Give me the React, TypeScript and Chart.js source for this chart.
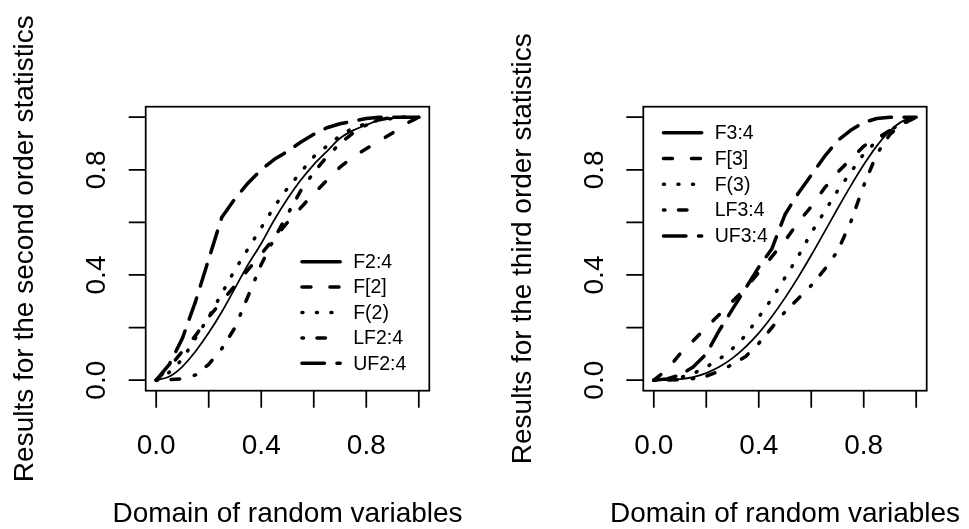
import React, { useEffect, useRef } from "react";
import { Chart, registerables } from "chart.js";

Chart.register(...registerables);

// ---------- data ----------
const X_GRID = [0, 0.05, 0.1, 0.15, 0.2, 0.25, 0.3, 0.35, 0.4, 0.45, 0.5, 0.55, 0.6, 0.65, 0.7, 0.75, 0.8, 0.85, 0.9, 0.95, 1];

// second order statistics (left panel)
const F24 = [0, 0.014, 0.052, 0.11, 0.18, 0.26, 0.35, 0.44, 0.52, 0.61, 0.69, 0.76, 0.82, 0.87, 0.92, 0.95, 0.97, 0.99, 0.996, 1, 1];
const F_BR2 = [0, 0.05, 0.11, 0.17, 0.24, 0.3, 0.36, 0.42, 0.48, 0.54, 0.6, 0.655, 0.71, 0.76, 0.81, 0.85, 0.88, 0.91, 0.94, 0.975, 1];
const F_PAR2 = [0, 0.03, 0.08, 0.16, 0.24, 0.33, 0.42, 0.5, 0.58, 0.66, 0.73, 0.79, 0.85, 0.89, 0.93, 0.96, 0.975, 0.99, 0.995, 1, 1];
const LF24 = [0, 0.002, 0.005, 0.02, 0.06, 0.12, 0.2, 0.32, 0.44, 0.54, 0.63, 0.72, 0.79, 0.85, 0.9, 0.94, 0.97, 0.99, 1, 1, 1];
const UF24 = [0, 0.06, 0.16, 0.3, 0.46, 0.62, 0.69, 0.75, 0.8, 0.84, 0.87, 0.905, 0.935, 0.96, 0.975, 0.985, 0.995, 1, 1, 1, 1];

// third order statistics (right panel)
const F34 = [0, 0.0005, 0.004, 0.012, 0.027, 0.051, 0.084, 0.127, 0.179, 0.242, 0.313, 0.391, 0.475, 0.563, 0.652, 0.738, 0.819, 0.891, 0.948, 0.986, 1];
const F_BR3 = [0, 0.04, 0.1, 0.15, 0.2, 0.25, 0.3, 0.35, 0.41, 0.47, 0.53, 0.6, 0.66, 0.73, 0.79, 0.84, 0.89, 0.92, 0.95, 0.975, 1];
const F_PAR3 = [0, 0.002, 0.01, 0.025, 0.05, 0.08, 0.12, 0.17, 0.24, 0.31, 0.39, 0.47, 0.56, 0.64, 0.72, 0.79, 0.86, 0.91, 0.95, 0.98, 1];
const LF34 = [0, 0, 0.002, 0.006, 0.015, 0.035, 0.06, 0.09, 0.14, 0.2, 0.26, 0.31, 0.36, 0.42, 0.49, 0.6, 0.74, 0.86, 0.935, 0.978, 1];
const UF34 = [0, 0.005, 0.02, 0.05, 0.1, 0.19, 0.27, 0.35, 0.43, 0.5, 0.63, 0.71, 0.78, 0.85, 0.91, 0.95, 0.98, 0.995, 1, 1, 1];

const X_TICKS = [0, 0.2, 0.4, 0.6, 0.8, 1];
const Y_TICKS = [0, 0.2, 0.4, 0.6, 0.8, 1];
const TICK_LABEL_VALUES = [0, 0.4, 0.8];
const TICK_LABELS = ["0.0", "0.4", "0.8"];

const LEFT_NAMES = ["F2:4", "F[2]", "F(2)", "LF2:4", "UF2:4"];
const RIGHT_NAMES = ["F3:4", "F[3]", "F(3)", "LF3:4", "UF3:4"];
const X_TITLE = "Domain of random variables";
const LEFT_Y_TITLE = "Results for the second order statistics";
const RIGHT_Y_TITLE = "Results for the third order statistics";

// ---------- styles ----------
const FONT = "'Liberation Sans', Arial, Helvetica, sans-serif";
const STYLES = [
  { dash: [] as number[], width: 1.75 },
  { dash: [9, 19], width: 3.5 },
  { dash: [1, 13.5], width: 3.5 },
  { dash: [1.5, 13.5, 8.5, 15], width: 3.5 },
  { dash: [22.5, 12.5], width: 3.5 },
];

type PanelCfg = {
  names: string[];
  series: number[][];
  yTitle: string;
  legendX: number;
  legendY: number;
  legendRow: number;
};

const axisPlugin = (cfg: PanelCfg) => ({
  id: "rAxes",
  afterDraw(chart: any) {
    const ctx: CanvasRenderingContext2D = chart.ctx;
    const { left, right, top, bottom } = chart.chartArea;
    const xs = chart.scales.x;
    const ys = chart.scales.y;
    ctx.save();
    ctx.strokeStyle = "#000";
    ctx.fillStyle = "#000";
    ctx.lineWidth = 1.75;
    ctx.lineCap = "butt";
    ctx.setLineDash([]);
    ctx.strokeRect(left, top, right - left, bottom - top);
    const tl = 17;
    ctx.beginPath();
    for (const v of X_TICKS) {
      const px = xs.getPixelForValue(v);
      ctx.moveTo(px, bottom);
      ctx.lineTo(px, bottom + tl);
    }
    for (const v of Y_TICKS) {
      const py = ys.getPixelForValue(v);
      ctx.moveTo(left, py);
      ctx.lineTo(left - tl, py);
    }
    ctx.stroke();
    ctx.font = `28px ${FONT}`;
    ctx.textAlign = "center";
    ctx.textBaseline = "alphabetic";
    TICK_LABEL_VALUES.forEach((v, i) => {
      ctx.fillText(TICK_LABELS[i], xs.getPixelForValue(v), bottom + 62.8);
    });
    ctx.fillText(X_TITLE, (left + right) / 2, bottom + 131);
    TICK_LABEL_VALUES.forEach((v, i) => {
      ctx.save();
      ctx.translate(left - 40.7, ys.getPixelForValue(v));
      ctx.rotate(-Math.PI / 2);
      ctx.fillText(TICK_LABELS[i], 0, 0);
      ctx.restore();
    });
    ctx.save();
    ctx.translate(left - 112.4, (top + bottom) / 2);
    ctx.rotate(-Math.PI / 2);
    ctx.fillText(cfg.yTitle, 0, 0);
    ctx.restore();
    ctx.font = `19.5px ${FONT}`;
    ctx.textAlign = "left";
    ctx.textBaseline = "middle";
    cfg.names.forEach((name, i) => {
      const y = top + cfg.legendY + i * cfg.legendRow;
      const x0 = left + cfg.legendX;
      ctx.save();
      ctx.lineWidth = 3.5;
      ctx.lineCap = "round";
      ctx.setLineDash(STYLES[i].dash);
      ctx.beginPath();
      ctx.moveTo(x0 + 1.75, y);
      ctx.lineTo(x0 + 40, y);
      ctx.stroke();
      ctx.restore();
      ctx.fillText(name, x0 + 53, y + 1);
    });
    ctx.restore();
  },
});

function makeChart(canvas: HTMLCanvasElement, cfg: PanelCfg, padding: any) {
  return new Chart(canvas, {
    type: "line",
    data: {
      datasets: cfg.series.map((vals, i) => ({
        label: cfg.names[i],
        data: X_GRID.map((x, j) => ({ x, y: vals[j] })),
        borderColor: "#000",
        borderWidth: STYLES[i].width,
        borderDash: STYLES[i].dash,
        borderCapStyle: "round",
        borderJoinStyle: "round",
        pointRadius: 0,
        fill: false,
        tension: 0,
        cubicInterpolationMode: i === 0 ? "monotone" : "default",
      })),
    },
    options: {
      responsive: false,
      animation: false,
      devicePixelRatio: 1,
      layout: { padding },
      plugins: { legend: { display: false }, tooltip: { enabled: false } },
      scales: {
        x: { type: "linear", min: -0.04, max: 1.04, display: false },
        y: { type: "linear", min: -0.04, max: 1.04, display: false },
      },
    } as any,
    plugins: [axisPlugin(cfg)],
  } as any);
}

export default function App() {
  const leftRef = useRef<HTMLCanvasElement>(null);
  const rightRef = useRef<HTMLCanvasElement>(null);
  useEffect(() => {
    const c1 = makeChart(
      leftRef.current!,
      { names: LEFT_NAMES, series: [F24, F_BR2, F_PAR2, LF24, UF24], yTitle: LEFT_Y_TITLE, legendX: 154.5, legendY: 155, legendRow: 25.4 },
      { left: 145.7, right: 485 - 429.3, top: 106.7, bottom: 529 - 390.7 }
    );
    const c2 = makeChart(
      rightRef.current!,
      { names: RIGHT_NAMES, series: [F34, F_BR3, F_PAR3, LF34, UF34], yTitle: RIGHT_Y_TITLE, legendX: 18.4, legendY: 26, legendRow: 25.8 },
      { left: 643.3 - 485, right: 969 - 926.7, top: 106.7, bottom: 529 - 390.7 }
    );
    return () => {
      c1.destroy();
      c2.destroy();
    };
  }, []);
  return (
    <div style={{ position: "absolute", left: 0, top: 0, width: 969, height: 529, background: "#fff" }}>
      <canvas ref={leftRef} width={485} height={529} style={{ position: "absolute", left: 0, top: 0, width: 485, height: 529 }} />
      <canvas ref={rightRef} width={484} height={529} style={{ position: "absolute", left: 485, top: 0, width: 484, height: 529 }} />
    </div>
  );
}
